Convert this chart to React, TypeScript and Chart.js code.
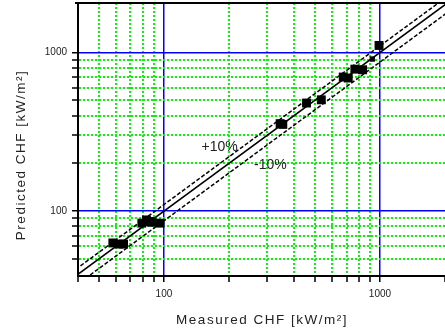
import React, { useEffect, useRef } from "react";
import { Chart, registerables } from "chart.js";

Chart.register(...registerables);

// ---- data ----
const measured = [58, 62, 65, 79, 83, 86, 88, 96, 345, 355, 457, 535, 676, 713, 765, 831, 990];
const predicted = [63, 62, 62, 84, 88, 86, 85, 84, 356, 352, 480, 503, 700, 690, 785, 778, 1107];
const smallMeasured = [921];
const smallPredicted = [909];

const idealX = [39, 2100];
const idealY = [39, 2100];
const upperX = [39, 2100];
const upperY = [42.9, 2310];
const lowerX = [39, 2100];
const lowerY = [33.9, 1827];

const xTicks = [40, 50, 60, 70, 80, 90, 100, 200, 300, 400, 500, 600, 700, 800, 900, 1000, 2000];
const yTicks = [50, 60, 70, 80, 90, 100, 200, 300, 400, 500, 600, 700, 800, 900, 1000];
const majorTicks = [100, 1000];
const edgeTicks = [40, 2000];

const bandLabels = ["+10%", "-10%"];
const bandLabelX = [181, 311];
const bandLabelY = [254, 196];

const FONT = "'Liberation Sans', Arial, sans-serif";
const BLUE = "#0000ff";
const GREEN = "#11ee11";

const toPts = (xs: number[], ys: number[]) => xs.map((x, i) => ({ x, y: ys[i] }));

export default function App() {
  const ref = useRef<HTMLCanvasElement | null>(null);

  useEffect(() => {
    document.body.style.margin = "0";
    const canvas = ref.current;
    if (!canvas) return;

    const gridColor = (c: any) => {
      if (!c.tick) return GREEN;
      const v = c.tick.value;
      if (edgeTicks.includes(v)) return "rgba(0,0,0,0)";
      return majorTicks.includes(v) ? BLUE : GREEN;
    };
    const gridDash = (c: any) => {
      if (!c.tick) return [];
      return majorTicks.includes(c.tick.value) ? [] : [2, 2];
    };
    const gridWidth = (c: any) => {
      if (!c.tick) return 1.5;
      return majorTicks.includes(c.tick.value) ? 1.5 : 2;
    };

    const makeScale = (axis: "x" | "y") => ({
      type: "logarithmic" as const,
      min: axis === "x" ? 40 : 39,
      max: axis === "x" ? 2000 : 2050,
      afterBuildTicks: (scale: any) => {
        scale.ticks = (axis === "x" ? xTicks : yTicks).map((v) => ({ value: v }));
      },
      afterFit: (scale: any) => {
        if (axis === "y") scale.width = 78;
        else scale.height = 59;
        scale.paddingTop = 0;
        scale.paddingBottom = 0;
        scale.paddingLeft = 0;
        scale.paddingRight = 0;
      },
      ticks: {
        autoSkip: false,
        maxRotation: 0,
        padding: axis === "y" ? 5 : 6,
        color: "#222",
        font: { family: FONT, size: 10 },
        callback: (v: any) => (majorTicks.includes(Number(v)) ? String(v) : ""),
      },
      grid: {
        color: gridColor,
        lineWidth: gridWidth,
        tickColor: "#000",
        tickLength: 6,
        tickWidth: 1.5,
      },
      border: { color: "#000", width: 2, dash: gridDash },
    });

    const overlay = {
      id: "overlay",
      afterDraw(chart: any) {
        const { ctx, chartArea, scales } = chart;
        ctx.save();
        // top frame line
        ctx.strokeStyle = "#000";
        ctx.lineWidth = 2;
        ctx.beginPath();
        ctx.moveTo(chartArea.left - 3, chartArea.top);
        ctx.lineTo(chartArea.right, chartArea.top);
        ctx.stroke();

        // band labels
        ctx.fillStyle = "#222";
        ctx.font = `14px ${FONT}`;
        ctx.textAlign = "center";
        ctx.textBaseline = "middle";
        bandLabels.forEach((t, i) => {
          ctx.fillText(t, scales.x.getPixelForValue(bandLabelX[i]), scales.y.getPixelForValue(bandLabelY[i]));
        });

        // axis titles
        ctx.font = `13.5px ${FONT}`;
        (ctx as any).letterSpacing = "1.5px";
        ctx.textBaseline = "alphabetic";
        ctx.fillText("Measured CHF [kW/m²]", 262, 324);
        ctx.translate(25, 155);
        ctx.rotate(-Math.PI / 2);
        ctx.fillText("Predicted CHF [kW/m²]", 0, 0);
        ctx.restore();
      },
    };

    const chart = new Chart(canvas, {
      type: "scatter",
      data: {
        datasets: [
          {
            label: "ideal",
            type: "line",
            data: toPts(idealX, idealY),
            borderColor: "#000",
            borderWidth: 1.5,
            pointRadius: 0,
            showLine: true,
            fill: false,
          },
          {
            label: "+10%",
            type: "line",
            data: toPts(upperX, upperY),
            borderColor: "#000",
            borderWidth: 1.5,
            borderDash: [4, 2],
            pointRadius: 0,
            showLine: true,
            fill: false,
          },
          {
            label: "-10%",
            type: "line",
            data: toPts(lowerX, lowerY),
            borderColor: "#000",
            borderWidth: 1.5,
            borderDash: [4, 2],
            pointRadius: 0,
            showLine: true,
            fill: false,
          },
          {
            label: "data",
            data: toPts(measured, predicted),
            pointStyle: "rect",
            pointRadius: 6.3,
            backgroundColor: "#000",
            borderColor: "#000",
            borderWidth: 0,
          },
          {
            label: "data small",
            data: toPts(smallMeasured, smallPredicted),
            pointStyle: "rect",
            pointRadius: 3.8,
            backgroundColor: "#000",
            borderColor: "#000",
            borderWidth: 0,
          },
        ],
      },
      options: {
        responsive: false,
        animation: false,
        events: [],
        layout: { autoPadding: false, padding: { top: 3, right: 0, left: 0, bottom: 0 } },
        plugins: { legend: { display: false }, tooltip: { enabled: false }, title: { display: false } },
        scales: { x: makeScale("x") as any, y: makeScale("y") as any },
      },
      plugins: [overlay],
    });

    return () => chart.destroy();
  }, []);

  return <canvas ref={ref} width={445} height={335} style={{ display: "block", width: 445, height: 335 }} />;
}
